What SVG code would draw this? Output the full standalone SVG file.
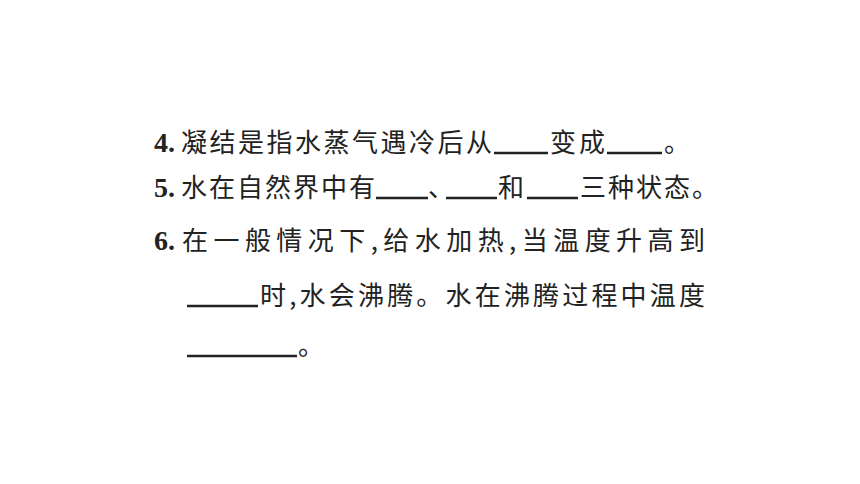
<svg xmlns="http://www.w3.org/2000/svg" width="860" height="484" viewBox="0 0 860 484">
<style>
.n{font-family:"Liberation Serif",serif;font-weight:bold;font-size:28px;fill:#222}
.t{font-family:"Noto Sans CJK SC",sans-serif;font-size:26px;fill:#222}
.u{stroke:#222;stroke-width:2.5}
</style>
<rect width="860" height="484" fill="#fff"/>
<text class="n" x="154" y="152">4.</text>
<text class="t" x="181" y="152" textLength="311" lengthAdjust="spacing">凝结是指水蒸气遇冷后从</text>
<line class="u" x1="494" y1="153" x2="548" y2="153"/>
<text class="t" x="550" y="152" textLength="55" lengthAdjust="spacing">变成</text>
<line class="u" x1="607" y1="153" x2="662" y2="153"/>
<text class="t" x="664" y="152">。</text>
<text class="n" x="154" y="197">5.</text>
<text class="t" x="181" y="197" textLength="194" lengthAdjust="spacing">水在自然界中有</text>
<line class="u" x1="376" y1="198" x2="428" y2="198"/>
<text class="t" x="428" y="197">、</text>
<line class="u" x1="446" y1="198" x2="497" y2="198"/>
<text class="t" x="498" y="197">和</text>
<line class="u" x1="527" y1="198" x2="578" y2="198"/>
<text class="t" x="580" y="197" textLength="138" lengthAdjust="spacing">三种状态。</text>
<text class="n" x="154" y="250">6.</text>
<text class="t" x="182" y="250" textLength="523" lengthAdjust="spacing">在一般情况下,给水加热,当温度升高到</text>
<line class="u" x1="187" y1="306" x2="258" y2="306"/>
<text class="t" x="260" y="305" textLength="445" lengthAdjust="spacing">时,水会沸腾。水在沸腾过程中温度</text>
<line class="u" x1="187" y1="356" x2="297" y2="356"/>
<text class="t" x="298" y="355">。</text>
</svg>
